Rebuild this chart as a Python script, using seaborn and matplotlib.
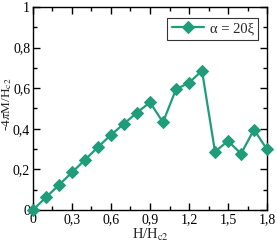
import numpy as np
import pandas as pd
import seaborn as sns
import matplotlib.pyplot as plt
from matplotlib.ticker import MultipleLocator, FuncFormatter

# data
h_ratio = [0.0, 0.1, 0.2, 0.3, 0.4, 0.5, 0.6, 0.7, 0.8, 0.9,
           1.0, 1.1, 1.2, 1.3, 1.4, 1.5, 1.6, 1.7, 1.8]
magnetization = [0.0, 0.062, 0.123, 0.185, 0.247, 0.31, 0.37, 0.425, 0.48, 0.53,
                 0.432, 0.595, 0.627, 0.686, 0.287, 0.34, 0.277, 0.396, 0.298]
series_label = 'α = 20ξ'

df = pd.DataFrame({'H': h_ratio, 'M': magnetization})

sns.set_theme(style='ticks')
plt.rcParams['font.family'] = ['Liberation Serif', 'DejaVu Serif']
plt.rcParams['mathtext.fontset'] = 'stix'

fig = plt.figure(figsize=(2.77, 2.43), dpi=100)
ax = fig.add_axes([0.119, 0.136, 0.845, 0.835])

color = '#1f9d7a'
sns.lineplot(data=df, x='H', y='M', ax=ax, color=color, marker='D',
             markersize=6.2, markeredgecolor=color, linewidth=1.6,
             label=series_label, clip_on=False, zorder=3)

ax.set_xlim(0, 1.8)
ax.set_ylim(0, 1)
ax.xaxis.set_major_locator(MultipleLocator(0.3))
ax.xaxis.set_minor_locator(MultipleLocator(0.15))
ax.yaxis.set_major_locator(MultipleLocator(0.2))
ax.yaxis.set_minor_locator(MultipleLocator(0.1))

fmt = FuncFormatter(lambda v, p: ('%g' % round(v, 2)).replace('.', ','))
ax.xaxis.set_major_formatter(fmt)
ax.yaxis.set_major_formatter(fmt)

ax.tick_params(which='both', direction='in', top=True, right=True,
               labelsize=10, pad=2, colors='black')
ax.tick_params(which='major', length=5, width=1)
ax.tick_params(which='minor', length=3, width=1)
for s in ax.spines.values():
    s.set_linewidth(1)
    s.set_color('black')

ax.set_xlabel(r'H/H$_{\rm c2}$', fontsize=10.5, labelpad=1)
ax.set_ylabel(r'-4$\pi$M/H$_{\rm c2}$', fontsize=9.5)
ax.yaxis.set_label_coords(-0.083, 0.52)

leg = ax.legend(loc='upper right', fontsize=10.5, frameon=True, fancybox=False,
                handlelength=2.2, borderpad=0.3, handletextpad=0.4,
                borderaxespad=0.6, bbox_to_anchor=(1.0, 0.99))
leg.get_frame().set_edgecolor('black')
leg.get_frame().set_linewidth(0.8)

fig.savefig('out.png', dpi=100)
